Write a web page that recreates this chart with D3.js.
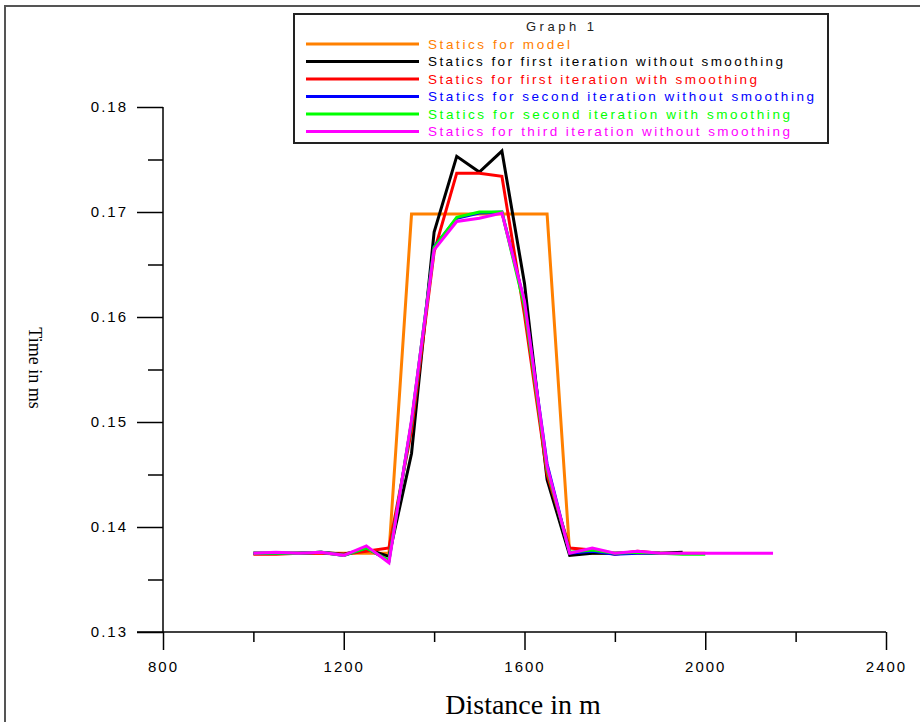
<!DOCTYPE html>
<html>
<head>
<meta charset="utf-8">
<script src="https://cdn.jsdelivr.net/npm/d3@7"></script>
<style>
  body { margin: 0; background: #fff; }
  svg { display: block; }
</style>
</head>
<body>
<svg id="chart" width="920" height="722"></svg>
<script>
// distance along the profile (m), one value every 50 m
var distance = [1000, 1050, 1100, 1150, 1200, 1250, 1300, 1350, 1400, 1450, 1500, 1550,
    1600, 1650, 1700, 1750, 1800, 1850, 1900, 1950, 2000, 2050, 2100, 2150];

// statics (ms), each series starts at 1000 m
var staticsModel = [0.1375, 0.1375, 0.1375, 0.1375, 0.1375, 0.1375, 0.1375, 0.1698, 0.1698, 0.1698,
    0.1698, 0.1698, 0.1698, 0.1698, 0.1375, 0.1375, 0.1375, 0.1375, 0.1375, 0.1375, 0.1375];
var staticsFirstNoSmooth = [0.1375, 0.1375, 0.1375, 0.1376, 0.1374, 0.1379, 0.1372, 0.1470, 0.1681, 0.1753,
    0.1738, 0.1758, 0.1632, 0.1445, 0.1373, 0.1375, 0.1375, 0.1376, 0.1375, 0.1376];
var staticsFirstSmooth = [0.1374, 0.1374, 0.1375, 0.1375, 0.1374, 0.1377, 0.1380, 0.1492, 0.1662, 0.1737,
    0.1737, 0.1734, 0.1602, 0.1450, 0.1380, 0.1378, 0.1374, 0.1377, 0.1375];
var staticsSecondNoSmooth = [0.1375, 0.1375, 0.1375, 0.1376, 0.1373, 0.1380, 0.1368, 0.1500, 0.1667, 0.1694,
    0.1699, 0.1700, 0.1614, 0.1460, 0.1375, 0.1377, 0.1374, 0.1375, 0.1375];
var staticsSecondSmooth = [0.1375, 0.1375, 0.1375, 0.1376, 0.1373, 0.1380, 0.1368, 0.1500, 0.1666, 0.1695,
    0.1700, 0.1700, 0.1610, 0.1455, 0.1376, 0.1378, 0.1375, 0.1376, 0.1375, 0.1374, 0.1374];
var staticsThirdNoSmooth = [0.1375, 0.1376, 0.1375, 0.1376, 0.1373, 0.1382, 0.1366, 0.1502, 0.1664, 0.1691,
    0.1694, 0.1699, 0.1615, 0.1458, 0.1375, 0.1380, 0.1375, 0.1377, 0.1375, 0.1375, 0.1375, 0.1375,
    0.1375, 0.1375];

var seriesNames = ["Statics for model", "Statics for first iteration without smoothing",
    "Statics for first iteration with smoothing", "Statics for second iteration without smoothing",
    "Statics for second iteration with smoothing", "Statics for third iteration without smoothing"];
var seriesColors = ["#ff8000", "#000000", "#ff0000", "#0000ff", "#00ff00", "#ff00ff"];
var seriesValues = [staticsModel, staticsFirstNoSmooth, staticsFirstSmooth, staticsSecondNoSmooth,
    staticsSecondSmooth, staticsThirdNoSmooth];

var xTicks = [800, 1200, 1600, 2000, 2400];
var xMinorTicks = [1000, 1400, 1800, 2200];
var yTicks = [0.13, 0.14, 0.15, 0.16, 0.17, 0.18];
var yMinorTicks = [0.135, 0.145, 0.155, 0.165, 0.175];

var svg = d3.select("#chart");

// outer frame
svg.append("rect")
    .attr("x", 5).attr("y", 6)
    .attr("width", 930).attr("height", 730)
    .attr("fill", "none")
    .attr("stroke", "#555")
    .attr("stroke-width", 2);

var x = d3.scaleLinear().domain([800, 2400]).range([163, 886]);
var y = d3.scaleLinear().domain([0.13, 0.18]).range([632, 107]);

// x axis: major ticks with labels, minor ticks without
var xAxis = svg.append("g")
    .attr("transform", "translate(0,632)")
    .call(d3.axisBottom(x).tickValues(xTicks).tickSize(18).tickPadding(11).tickFormat(d3.format("d")));
xAxis.append("g")
    .call(d3.axisBottom(x).tickValues(xMinorTicks).tickSize(10).tickFormat(""));
xAxis.selectAll(".domain").remove();
xAxis.append("line")
    .attr("x1", 137).attr("x2", x(2400))
    .attr("stroke", "#000").attr("stroke-width", 1.5);

var yAxis = svg.append("g")
    .attr("transform", "translate(163,0)")
    .call(d3.axisLeft(y).tickValues(yTicks).tickSize(26).tickPadding(9).tickFormat(d3.format(".2f")));
yAxis.append("g")
    .call(d3.axisLeft(y).tickValues(yMinorTicks).tickSize(15).tickFormat(""));
yAxis.selectAll(".domain").remove();
yAxis.append("line")
    .attr("y1", y(0.18)).attr("y2", y(0.13))
    .attr("stroke", "#000").attr("stroke-width", 1.5);

svg.selectAll(".tick line").attr("stroke", "#000").attr("stroke-width", 1.5);
svg.selectAll(".tick text")
    .attr("fill", "#000")
    .style("font-family", "Arial, 'Liberation Sans', sans-serif")
    .style("font-size", "15px")
    .style("letter-spacing", "2px");

// series lines
var line = d3.line()
    .x(function (d, i) { return x(distance[i]); })
    .y(function (d) { return y(d); });

svg.append("g").selectAll("path")
    .data(seriesValues)
    .enter()
    .append("path")
    .attr("d", function (d) { return line(d); })
    .attr("fill", "none")
    .attr("stroke", function (d, i) { return seriesColors[i]; })
    .attr("stroke-width", 3)
    .attr("stroke-linejoin", "miter");

// axis titles
svg.append("text")
    .attr("x", 523).attr("y", 714)
    .attr("text-anchor", "middle")
    .style("font-family", "'Liberation Serif', 'Times New Roman', serif")
    .style("font-size", "28px")
    .text("Distance in m");

svg.append("text")
    .attr("transform", "translate(29,368) rotate(90)")
    .attr("text-anchor", "middle")
    .style("font-family", "'Liberation Serif', 'Times New Roman', serif")
    .style("font-size", "18px")
    .text("Time in ms");

// legend
var legend = svg.append("g");
legend.append("rect")
    .attr("x", 294).attr("y", 14)
    .attr("width", 534).attr("height", 129)
    .attr("fill", "#fff")
    .attr("stroke", "#222")
    .attr("stroke-width", 2);
legend.append("text")
    .attr("x", 560).attr("y", 31)
    .attr("text-anchor", "middle")
    .style("font-family", "Arial, 'Liberation Sans', sans-serif")
    .style("font-size", "13px")
    .attr("fill", "#222")
    .attr("textLength", 68)
    .attr("lengthAdjust", "spacing")
    .text("Graph 1");

var legendEnds = [570, 783, 757, 814, 790, 790];
var rows = legend.selectAll(".row")
    .data(seriesNames)
    .enter()
    .append("g")
    .attr("class", "row")
    .attr("transform", function (d, i) { return "translate(0," + (44 + i * 17.5) + ")"; });
rows.append("line")
    .attr("x1", 306).attr("x2", 419)
    .attr("stroke", function (d, i) { return seriesColors[i]; })
    .attr("stroke-width", 3);
rows.append("text")
    .attr("x", 428).attr("y", 4.5)
    .attr("fill", function (d, i) { return seriesColors[i]; })
    .style("font-family", "Arial, 'Liberation Sans', sans-serif")
    .style("font-size", "13.5px")
    .attr("textLength", function (d, i) { return legendEnds[i] - 428; })
    .attr("lengthAdjust", "spacing")
    .text(function (d) { return d; });
</script>
</body>
</html>
